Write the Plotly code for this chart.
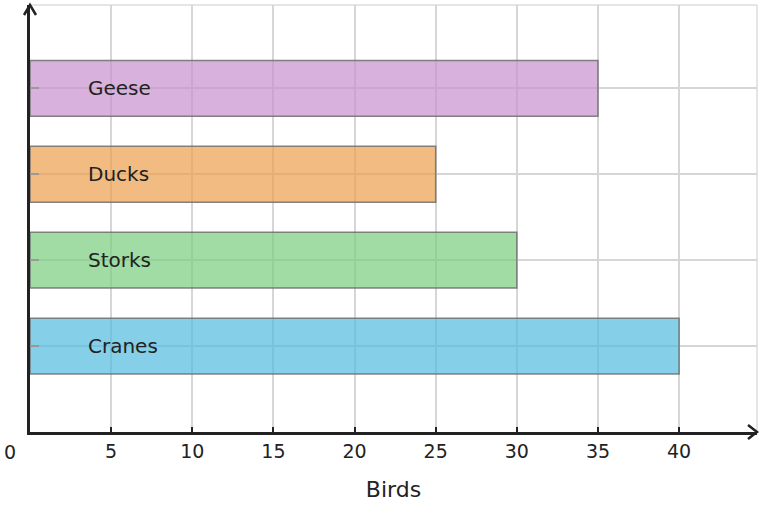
import plotly.graph_objects as go

categories = ["Cranes", "Storks", "Ducks", "Geese"]
birds = [40, 30, 25, 35]
colors = ["rgba(81,188,222,0.7)", "rgba(119,205,125,0.7)",
          "rgba(237,158,77,0.7)", "rgba(199,145,205,0.7)"]
x_ticks = [5, 10, 15, 20, 25, 30, 35, 40]

W, H = 763, 508
ml, mr, mt, mb = 30, 6, 5, 76
pw, ph = W - ml - mr, H - mt - mb
ink = "#222222"

fig = go.Figure()
fig.add_trace(go.Bar(
    y=categories, x=birds, orientation="h", width=0.65,
    marker=dict(color=colors, line=dict(color="rgba(110,110,110,0.85)", width=1.5)),
    showlegend=False, hoverinfo="skip",
))

annotations = []
for c in categories:
    annotations.append(dict(x=3.45, y=c, xref="x", yref="y", text=c, showarrow=False,
                            xanchor="left", yanchor="middle",
                            font=dict(size=20, color=ink)))
annotations.append(dict(x=0, y=0, xref="x", yref="paper", text="0", showarrow=False,
                        xanchor="center", yanchor="top", xshift=-20, yshift=-7,
                        font=dict(size=19, color=ink)))

ax, ay = 9 / pw, 7 / ph
bx, by = 6 / pw, 10 / ph
shapes = [
    dict(type="line", xref="paper", yref="paper", x0=0, x1=1, y0=1, y1=1,
         line=dict(color="#dddddd", width=1.5), layer="below"),
    dict(type="line", xref="paper", yref="paper", x0=1, x1=1, y0=0, y1=1,
         line=dict(color="#dddddd", width=1.5), layer="below"),
    dict(type="path", xref="paper", yref="paper",
         path=f"M {1-ax},{ay} L 1,0 L {1-ax},{-ay}",
         line=dict(color=ink, width=2.5)),
    dict(type="path", xref="paper", yref="paper",
         path=f"M {-bx},{1-by} L 0,1 L {bx},{1-by}",
         line=dict(color=ink, width=2.5)),
]

fig.update_layout(
    width=W, height=H,
    margin=dict(l=ml, r=mr, t=mt, b=mb),
    paper_bgcolor="white", plot_bgcolor="white",
    font=dict(family="DejaVu Sans", color=ink, size=19),
    annotations=annotations,
    shapes=shapes,
    xaxis=dict(range=[0, 44.8], tickvals=x_ticks, showgrid=True,
               gridcolor="#d6d6d6", gridwidth=1.5,
               showline=True, linecolor=ink, linewidth=2.5,
               ticks="inside", ticklen=5, tickwidth=2, tickcolor=ink,
               tickfont=dict(size=19, color=ink), zeroline=False,
               title=dict(text="Birds", font=dict(size=22, color=ink), standoff=22)),
    yaxis=dict(type="category", categoryorder="array", categoryarray=categories,
               range=[-1.0, 3.97], showgrid=True, gridcolor="#d6d6d6", gridwidth=1.5,
               showline=True, linecolor=ink, linewidth=2.5,
               ticks="inside", ticklen=9, tickwidth=1.5, tickcolor="#999999",
               showticklabels=False, zeroline=False),
)

fig.write_html("out.html")
